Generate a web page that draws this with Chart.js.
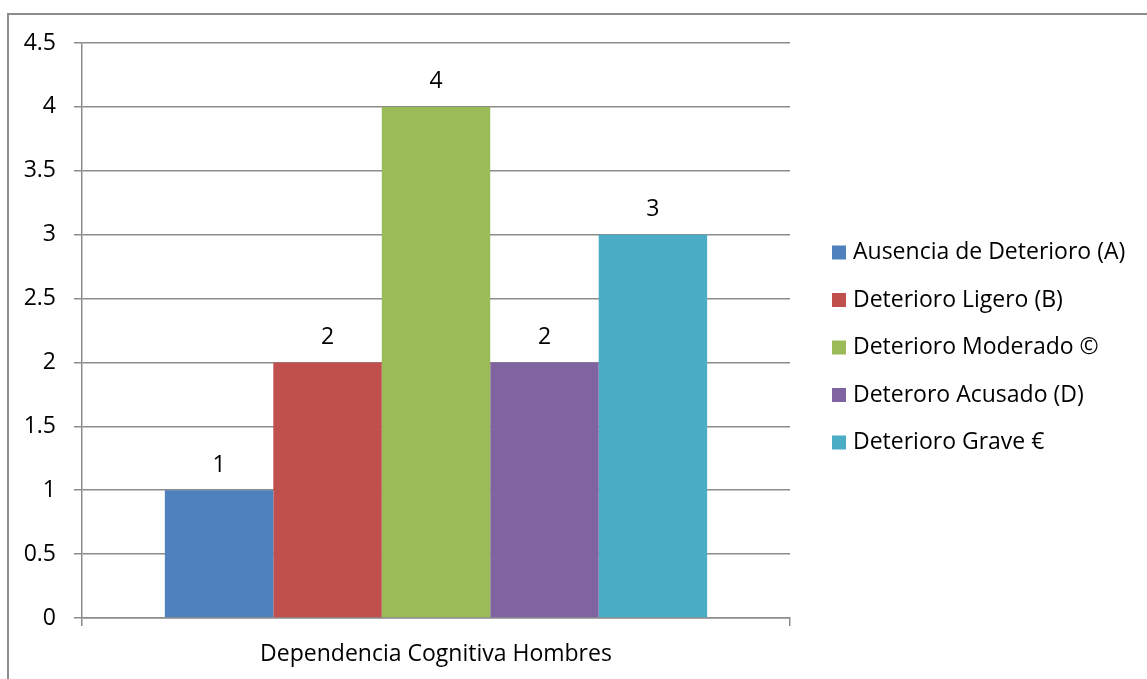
<!DOCTYPE html>
<html><head><meta charset="utf-8">
<script src="https://cdn.jsdelivr.net/npm/chart.js@4.4.1/dist/chart.umd.min.js"></script>
<style>
html,body{margin:0;padding:0;background:#fff;}
#wrap{position:relative;width:1147px;height:679px;overflow:hidden;}
#frame{position:absolute;left:7px;top:13px;width:1200px;height:700px;border-left:2px solid #8c8c8c;border-top:2px solid #8c8c8c;}
canvas{position:absolute;left:0;top:0;}
</style></head>
<body><div id="wrap"><div id="frame"></div><canvas id="c" width="1147" height="679"></canvas></div>
<script>
const categories = ["Dependencia Cognitiva Hombres"];
const seriesNames = ["Ausencia de Deterioro (A)","Deterioro Ligero (B)","Deterioro Moderado ©","Deteroro Acusado (D)","Deterioro Grave €"];
const seriesValues = [[1],[2],[4],[2],[3]];
const seriesColors = ["#4F81BD","#C0504D","#9BBB59","#8064A2","#4BACC6"];
const yTicks = [0,0.5,1,1.5,2,2.5,3,3.5,4,4.5];

const FONT = "Open Sans";
const FS = 23;
const gridColor = "#8c8c8c";

const valueLabels = {
  id:'valueLabels',
  afterDatasetsDraw(chart){
    const ctx = chart.ctx;
    ctx.save();
    ctx.font = FS + "px " + FONT;
    ctx.fillStyle = "#000";
    ctx.textAlign = "center";
    ctx.textBaseline = "middle";
    chart.data.datasets.forEach((ds,i)=>{
      const meta = chart.getDatasetMeta(i);
      meta.data.forEach((el,j)=>{
        ctx.fillText(String(ds.data[j]), el.x, el.y - 25);
      });
    });
    ctx.restore();
  }
};

const sideLegend = {
  id:'sideLegend',
  afterDraw(chart){
    const ctx = chart.ctx;
    ctx.save();
    ctx.font = FS + "px " + FONT;
    ctx.textAlign = "left";
    ctx.textBaseline = "middle";
    const x0 = chart.chartArea.right + 42;
    const y0 = 252.5, step = 47.5, box = 14;
    chart.data.datasets.forEach((ds,i)=>{
      const yc = y0 + i*step;
      ctx.fillStyle = ds.backgroundColor;
      ctx.fillRect(x0, yc - box/2, box, box);
      ctx.fillStyle = "#000";
      ctx.fillText(ds.label, x0 + 21, yc);
    });
    ctx.restore();
  }
};

new Chart(document.getElementById('c'), {
  type:'bar',
  data:{
    labels: categories,
    datasets: seriesNames.map((n,i)=>({label:n, data:seriesValues[i], backgroundColor:seriesColors[i], borderWidth:0}))
  },
  options:{
    responsive:false,
    animation:false,
    events:[],
    layout:{padding:{left:0,top:43,right:357,bottom:0}},
    datasets:{bar:{categoryPercentage:0.766,barPercentage:1}},
    scales:{
      x:{
        afterFit(s){s.height = 61;},
        grid:{drawOnChartArea:false,color:gridColor,lineWidth:1.5,tickLength:8},
        border:{color:gridColor,width:1.5},
        ticks:{color:"#000",font:{family:FONT,size:FS},padding:15}
      },
      y:{
        min:0,max:4.5,
        afterFit(s){s.width = 82;},
        afterBuildTicks(scale){scale.ticks = yTicks.map(v=>({value:v}));},
        grid:{color:gridColor,lineWidth:1.5,tickLength:8},
        border:{color:gridColor,width:1.5},
        ticks:{color:"#000",font:{family:FONT,size:FS},padding:18,callback:v=>String(v)}
      }
    },
    plugins:{
      legend:{display:false},
      tooltip:{enabled:false}
    }
  },
  plugins:[valueLabels, sideLegend]
});
</script></body></html>
